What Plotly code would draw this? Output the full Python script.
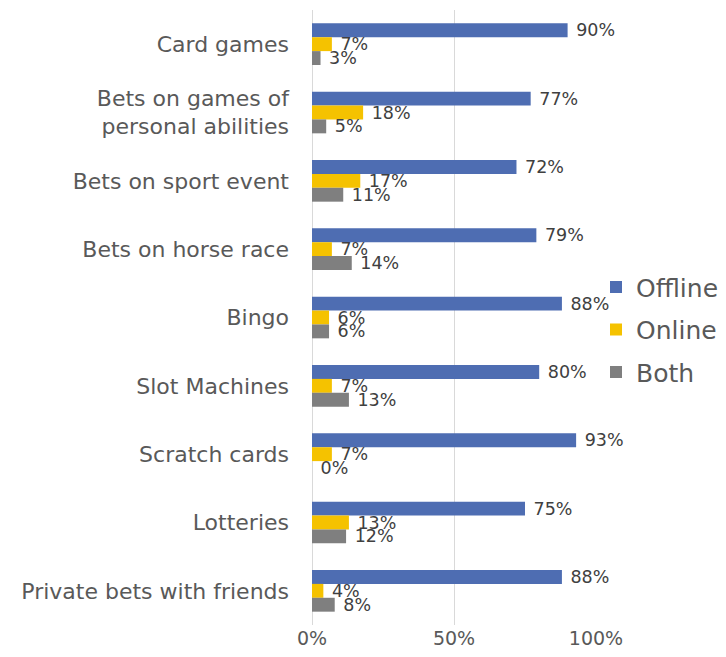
import plotly.graph_objects as go

categories = ["Card games", "Bets on games of<br>personal abilities", "Bets on sport event",
              "Bets on horse race", "Bingo", "Slot Machines", "Scratch cards",
              "Lotteries", "Private bets with friends"]
offline = [0.90, 0.77, 0.72, 0.79, 0.88, 0.80, 0.93, 0.75, 0.88]
online = [0.07, 0.18, 0.17, 0.07, 0.06, 0.07, 0.07, 0.13, 0.04]
both = [0.03, 0.05, 0.11, 0.14, 0.06, 0.13, 0.00, 0.12, 0.08]
x_ticks = [0, 0.5, 1.0]
x_tick_labels = ["0%", "50%", "100%"]

FONT = "DejaVu Sans"
series = [("Offline", offline, "#4E6DB2"), ("Online", online, "#F5C200"), ("Both", both, "#7F7F7F")]

fig = go.Figure()
for name, vals, color in series:
    fig.add_trace(go.Bar(
        name=name, y=categories, x=vals, orientation="h",
        marker=dict(color=color, line=dict(width=0)),
        texttemplate="\u00a0%{x:.0%}", textposition="outside", cliponaxis=False,
        constraintext="none",
        textfont=dict(family=FONT, size=17.5, color="#404040"),
        legendgroup=name,
    ))

fig.update_layout(
    width=718, height=649,
    margin=dict(l=304, r=128, t=2, b=32),
    barmode="group", bargap=0.39, bargroupgap=0,
    plot_bgcolor="white", paper_bgcolor="white",
    font=dict(family=FONT, color="#595959"),
    legend=dict(x=1.0, y=0.48, xanchor="left", yanchor="middle",
                bgcolor="rgba(0,0,0,0)",
                font=dict(family=FONT, size=25, color="#595959"),
                tracegroupgap=7, itemwidth=30),
)
fig.update_xaxes(range=[0, 1.0], tickvals=x_ticks, ticktext=x_tick_labels,
                 showgrid=True, gridcolor="#D9D9D9", gridwidth=1,
                 zeroline=True, zerolinecolor="#D9D9D9", zerolinewidth=1,
                 tickfont=dict(family=FONT, size=19, color="#595959"),
                 showline=False, ticks="")
fig.update_yaxes(autorange="reversed", showgrid=False, ticks="",
                 tickfont=dict(family=FONT, size=22, color="#595959"),
                 ticklabelstandoff=22)

fig.write_html("out.html")
